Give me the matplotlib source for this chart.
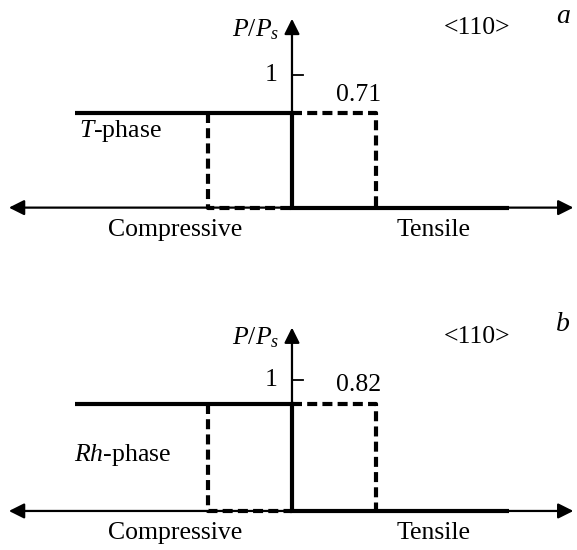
import matplotlib
matplotlib.use('Agg')
from matplotlib import pyplot as plt

plt.rcParams['font.family'] = ['Liberation Serif', 'DejaVu Serif']
plt.rcParams['mathtext.fontset'] = 'custom'
plt.rcParams['mathtext.rm'] = 'Liberation Serif'
plt.rcParams['mathtext.it'] = 'Liberation Serif:italic'

# Data
panels = ['a', 'b']
levels = [0.71, 0.82]
level_labels = ['0.71', '0.82']
phase_names = [r'$T$-phase', r'$Rh$-phase']
direction = '<110>'

x_left = -2.58      # start of the compressive plateau
x_right = 2.58      # end of the tensile zero line
x_dash = 1.0        # width of the dashed box
x_axis_min, x_axis_max = -3.37, 3.35

fig = plt.figure(figsize=(5.77, 5.5), dpi=100)

# axes positions [left, bottom, width, height] and y limits
boxes = [[0, 0.527, 1, 0.4727], [0, 0.0, 1, 0.4909]]
ylims = [(-0.395, 1.56), (-0.298, 1.763)]
ytops = [1.42, 1.40]
phase_pos = [(-2.54, 0.575), (-2.6, 0.43)]
fs = 18.5

for i in range(2):
    ax = fig.add_axes(boxes[i])
    ax.set_xlim(-3.476, 3.393)
    ax.set_ylim(*ylims[i])
    ax.axis('off')
    p = levels[i]

    # osy se šipkami
    ax.annotate('', xy=(x_axis_max, 0), xytext=(x_axis_min, 0),
                arrowprops=dict(arrowstyle='<|-|>', lw=1.6, color='k',
                                mutation_scale=23, shrinkA=0, shrinkB=0))
    ax.annotate('', xy=(0, ytops[i]), xytext=(0, 0),
                arrowprops=dict(arrowstyle='-|>', lw=1.6, color='k',
                                mutation_scale=23, shrinkA=0, shrinkB=0))
    ax.plot([0, 0.13], [1, 1], color='k', lw=1.3)
    ax.text(-0.17, 1, '1', ha='right', va='center', fontsize=fs)

    # plná čára
    ax.plot([x_left, 0, 0, x_right], [p, p, 0, 0], color='k', lw=3,
            solid_capstyle='butt', solid_joinstyle='miter')
    # čárkovaný obdélník
    ax.plot([-x_dash, -x_dash, 0], [p, 0, 0], color='k', lw=3,
            dashes=(2.4, 1.25))
    ax.plot([0, x_dash, x_dash], [p, p, 0], color='k', lw=3,
            dashes=(2.4, 1.25))

    ax.text(-0.155, ytops[i] - 0.08, r'$P/P_s$', ha='right', va='center', fontsize=fs)
    ax.text(0.79, p + 0.14, level_labels[i], ha='center', va='center', fontsize=fs)
    ax.text(2.2, ytops[i] - 0.07, direction, ha='center', va='center', fontsize=fs)
    ax.text(3.23, ytops[i] + 0.02, panels[i], ha='center', va='center',
            fontsize=20, style='italic')
    ax.text(phase_pos[i][0], phase_pos[i][1], phase_names[i],
            ha='left', va='center', fontsize=fs)
    ax.text(-1.39, -0.17, 'Compressive', ha='center', va='center', fontsize=fs)
    ax.text(1.69, -0.17, 'Tensile', ha='center', va='center', fontsize=fs)

fig.savefig('out.png', dpi=100)
